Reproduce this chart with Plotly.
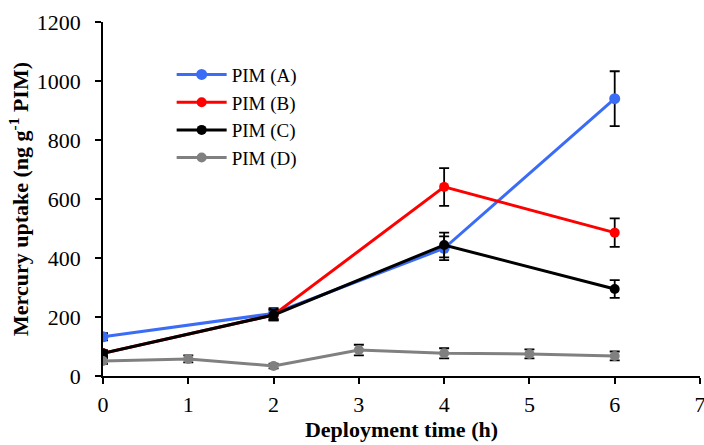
import plotly.graph_objects as go

x_main = [0, 2, 4, 6]
x_d = [0, 1, 2, 3, 4, 5, 6]

a_vals = [133, 212, 433, 940]
a_err = [12, 18, 40, 93]
b_vals = [77, 207, 641, 486]
b_err = [10, 18, 64, 48]
c_vals = [77, 207, 444, 295]
c_err = [10, 18, 42, 30]
d_vals = [51, 58, 34, 88, 77, 75, 68]
d_err = [10, 12, 8, 18, 17, 15, 15]

names = ["PIM (A)", "PIM (B)", "PIM (C)", "PIM (D)"]
colors = ["#3B6CF6", "#FF0000", "#000000", "#808080"]
msizes = [11, 10, 10, 10]

fig = go.Figure()
series = [(x_main, a_vals, a_err), (x_main, b_vals, b_err), (x_main, c_vals, c_err), (x_d, d_vals, d_err)]
for (xs, ys, es), nm, col, ms in zip(series, names, colors, msizes):
    fig.add_trace(go.Scatter(
        x=xs, y=ys, name=nm, mode="lines+markers",
        line=dict(color=col, width=3),
        marker=dict(color=col, size=ms),
        error_y=dict(type="data", array=es, visible=True, color="black", thickness=1.8, width=5),
    ))

font_fam = "Liberation Serif, serif"
fig.update_layout(
    width=704, height=445,
    margin=dict(l=103, r=4, t=22, b=69, autoexpand=False),
    plot_bgcolor="white", paper_bgcolor="white",
    font=dict(family=font_fam, size=22, color="black"),
    showlegend=True,
    legend=dict(x=0.115, y=0.905, xanchor="left", yanchor="top",
                bgcolor="rgba(0,0,0,0)", font=dict(size=19, family=font_fam),
                tracegroupgap=0, itemwidth=50),
    xaxis=dict(range=[0, 7], tickvals=[0, 1, 2, 3, 4, 5, 6, 7], showgrid=False, zeroline=False,
               showline=True, linecolor="black", linewidth=1.5, ticks="outside", ticklen=6,
               tickcolor="black", tickwidth=1.5, ticklabelstandoff=2, ticklabeloverflow="allow",
               automargin=False, tickfont=dict(size=22),
               title=dict(text="<b>Deployment time (h)</b>", font=dict(size=22, family=font_fam), standoff=2)),
    yaxis=dict(range=[0, 1200], tickvals=[0, 200, 400, 600, 800, 1000, 1200], showgrid=False, zeroline=False,
               showline=True, linecolor="black", linewidth=1.5, ticks="outside", ticklen=6,
               tickcolor="black", tickwidth=1.5, ticklabelstandoff=10, automargin=False, tickfont=dict(size=22),
               title=dict(text="<b>Mercury uptake (ng g<sup>-1</sup> PIM)</b>", font=dict(size=22, family=font_fam), standoff=2)),
)

fig.write_html("out.html")
